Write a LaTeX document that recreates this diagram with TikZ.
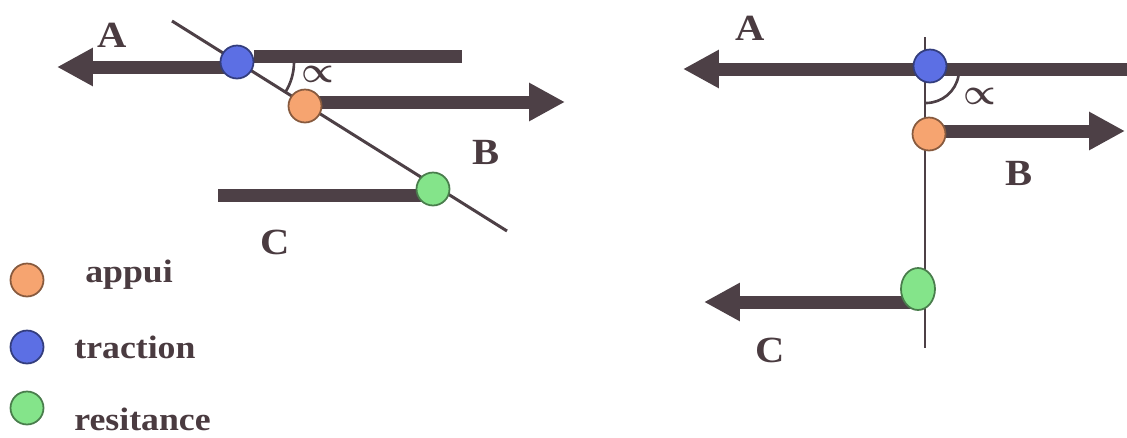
\documentclass[tikz,border=0pt]{standalone}
\usepackage{fontspec}
\setmainfont[FakeStretch=1.1]{Liberation Serif}
\usetikzlibrary{arrows.meta, backgrounds, shapes.geometric}
\definecolor{cforce}{HTML}{4D4046}
\definecolor{ctext}{HTML}{4A3B40}
\definecolor{cblue}{HTML}{5C6FE4}
\definecolor{corange}{HTML}{F6A470}
\definecolor{cgreen}{HTML}{84E48A}
\tikzset{
  every picture/.style={x=0.02cm, y=-0.02cm},
  force/.style={draw=cforce, line width=0.26cm, -{Triangle[length=0.72cm, width=0.72cm]}},
  bar/.style={draw=cforce, line width=0.26cm},
  axisline/.style={draw=cforce, line width=1.7pt},
  anglearc/.style={draw=cforce, line width=1.5pt},
  point/.style={circle, draw=#1!55!black, fill=#1, line width=1pt, minimum size=0.66cm, inner sep=0pt},
  letter/.style={font=\bfseries\fontsize{21}{21}\selectfont, text=ctext},
  legend/.style={font=\bfseries\fontsize{18.5}{18.5}\selectfont, text=ctext, anchor=base west, inner sep=0pt},
  greek/.style={font=\boldmath\fontsize{20}{20}\selectfont, text=ctext},
}

\begin{document}
\begin{tikzpicture}
  \useasboundingbox (0,0) rectangle (1127,437);
  % left: inclined axis
  \node[point=cblue] (tracL) at (237,62) {};
  \node[point=corange] (appuiL) at (305,106) {};
  \node[point=cgreen] (resL) at (433,189) {};
  \coordinate (lineLtop) at (172,21);
  \coordinate (lineLbot) at (507,231);
  \coordinate (tipAL) at (57,67);
  \coordinate (endbarL) at (462,56);
  \coordinate (tipBL) at (565,102);
  \coordinate (startCL) at (218,195);
  \begin{scope}[on background layer]
    \draw[axisline] (lineLtop) -- (lineLbot);
    \draw[force] (tracL.center |- tipAL) -- (tipAL);
    \draw[bar] (tracL.east |- endbarL) -- (endbarL);
    \draw[force] (appuiL.center |- tipBL) -- (tipBL);
    \draw[bar] (resL.center |- startCL) -- (startCL);
  \end{scope}
  \draw[anglearc] ([shift={(0:57)}]tracL.center) arc[start angle=0, end angle=32, radius=57];
  \node[greek] (alphaL) at (318,74) {$\propto$};
  \node[letter] (labAL) at (112,35) {A};
  \node[letter] (labBL) at (486,152) {B};
  \node[letter] (labCL) at (275,242) {C};

  % right: vertical axis
  \node[point=cblue] (tracR) at (930,66) {};
  \node[point=corange] (appuiR) at (929,134) {};
  \node[point=cgreen, ellipse, minimum width=0.68cm, minimum height=0.84cm] (resR) at (918,289) {};
  \coordinate (lineRtop) at (925,37);
  \coordinate (lineRbot) at (925,348);
  \coordinate (tipAR) at (683,69);
  \coordinate (endAR) at (1127,69);
  \coordinate (tipBR) at (1125,131);
  \coordinate (tipCR) at (704,302);
  \coordinate (angR) at (926,70);
  \begin{scope}[on background layer]
    \draw[axisline] (lineRtop) -- (lineRbot);
    \draw[force] (endAR) -- (tipAR);
    \draw[force] (appuiR.center |- tipBR) -- (tipBR);
    \draw[force] (resR.center |- tipCR) -- (tipCR);
  \end{scope}
  \draw[anglearc] ([shift={(10:33)}]angR) arc[start angle=10, end angle=90, radius=33];
  \node[greek] (alphaR) at (980,96) {$\propto$};
  \node[letter] (labAR) at (750,28) {A};
  \node[letter] (labBR) at (1019,173) {B};
  \node[letter] (labCR) at (770,350) {C};

  % legend
  \foreach \c/\y/\x/\b/\t/\n in {corange/280/85/282/appui/1, cblue/347/74/358/traction/2, cgreen/408/74/430/resitance/3} {
    \node[point=\c] (key\n) at (27,\y) {};
    \node[legend] (keytext\n) at (\x,\b) {\t};
  }
\end{tikzpicture}
\end{document}
